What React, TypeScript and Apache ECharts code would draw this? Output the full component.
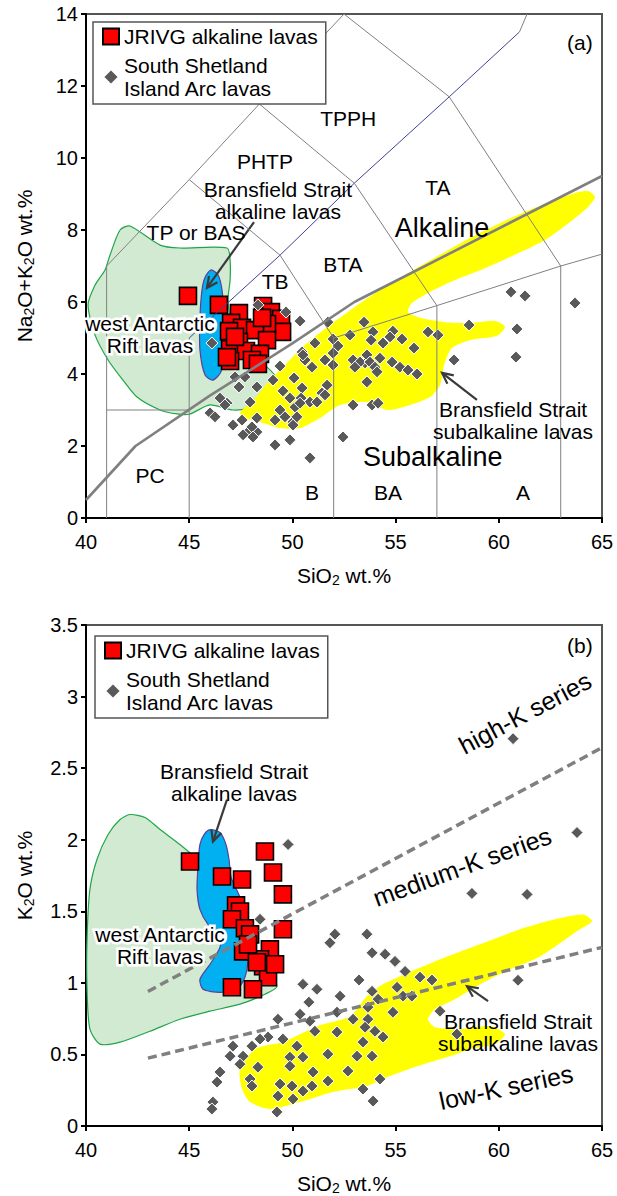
import React, { useEffect, useRef } from "react";
import * as echarts from "echarts";

const FONT = '"Liberation Sans", Arial, Helvetica, sans-serif';

const NAME_RED = "JRIVG alkaline lavas";
const NAME_DIA = "South Shetland\nIsland Arc lavas";

// ---------- Panel (a): TAS ----------
const RED_A = [
  [44.94, 6.17], [46.44, 5.92], [48.58, 5.89], [48.96, 5.72], [49.45, 5.53], [49.5, 5.17],
  [47.41, 5.69], [47.03, 5.42], [47.56, 5.28], [46.93, 5.19], [48.77, 5.39], [48.19, 5.22],
  [48.77, 4.94], [47.41, 4.89], [46.98, 4.69], [47.75, 4.64], [48.43, 4.56], [46.98, 4.36],
  [48.04, 4.39], [48.33, 4.28], [46.83, 4.47], [47.22, 5.03], [48.53, 5.56],
];

const DIAM_A = [
  [48.33, 5.92], [49.69, 5.72], [50.37, 5.47], [51.72, 5.44], [53.47, 5.44], [46.1, 4.86],
  [53.9, 5.17], [52.79, 5.08], [51.97, 4.97], [51.09, 4.86], [52.21, 4.78], [50.47, 4.61],
  [49.4, 4.22], [47.22, 3.92], [47.7, 3.92], [47.41, 3.64], [48.28, 3.64], [49.06, 3.83],
  [50.08, 3.89], [50.61, 4.39], [51.58, 4.39], [50.95, 4.19], [52.94, 4.39], [53.52, 4.31],
  [53.61, 3.78], [51.68, 3.69], [50.47, 3.61], [49.54, 3.53], [49.88, 3.33], [50.42, 3.33],
  [50.85, 3.22], [50.13, 3.08], [49.4, 3.0], [49.64, 2.81], [50.03, 2.67], [47.95, 3.22],
  [46.83, 3.19], [46.01, 2.92], [47.12, 2.58], [47.56, 2.72], [48.28, 2.78], [47.8, 2.36],
  [48.28, 2.39], [49.16, 2.03], [49.88, 2.17], [52.45, 2.25], [52.94, 3.14], [53.86, 3.14],
  [51.43, 3.47], [51.19, 3.22], [46.49, 3.33], [46.73, 3.14], [46.25, 2.81], [48.04, 2.53],
  [47.61, 2.31], [48.09, 2.25], [49.16, 2.72], [50.22, 2.81], [50.03, 2.58], [54.87, 5.19],
  [55.31, 4.97], [54.39, 4.86], [54.73, 5.03], [53.81, 4.94], [50.51, 4.53], [51.97, 4.58],
  [51.97, 4.25], [53.28, 4.33], [53.03, 4.19], [53.61, 4.53], [53.76, 4.33], [54.0, 4.19],
  [54.24, 4.44], [54.83, 4.33], [55.21, 4.19], [55.6, 4.11], [56.04, 4.0], [55.89, 4.72],
  [54.1, 4.06], [51.58, 3.42], [50.37, 3.19], [54.15, 3.19], [56.57, 5.17], [57.05, 5.08],
  [57.83, 4.39], [50.85, 1.67], [60.59, 6.28], [61.27, 6.17], [63.69, 5.97], [58.56, 5.36],
  [60.88, 5.25], [60.83, 4.47],
];

const GREEN_A = [
  [41.65, 8.0], [42.13, 8.11], [43.59, 7.58], [44.55, 7.5], [46.83, 7.5], [46.98, 7.17],
  [46.98, 6.6], [46.88, 6.06], [47.07, 5.42], [48.2, 4.5], [49.1, 4.0], [49.3, 3.64],
  [48.91, 3.28], [47.95, 3.06], [47.12, 3.0], [46.0, 3.14], [45.04, 2.89], [44.41, 2.89],
  [43.59, 3.0], [42.47, 3.36], [41.79, 3.83], [41.07, 4.39], [40.44, 5.08], [40.1, 5.92],
  [40.44, 6.47], [40.92, 6.89], [41.16, 7.3],
];

const BLUE_A = [
  [46.06, 6.89], [46.4, 6.75], [46.59, 6.33], [46.69, 5.5], [46.69, 4.67], [46.54, 4.06],
  [46.15, 3.83], [45.77, 3.97], [45.52, 4.67], [45.52, 5.56], [45.62, 6.33], [45.77, 6.69],
];

const YELLOW_A = [
  [47.46, 2.92], [48.19, 3.33], [48.82, 3.78], [49.64, 4.25], [50.61, 4.81], [51.82, 5.36],
  [53.03, 5.86], [54.24, 6.33], [55.7, 6.83], [57.15, 7.31], [58.6, 7.78], [60.06, 8.19],
  [61.51, 8.56], [62.72, 8.83], [63.69, 9.03], [64.32, 9.08], [64.66, 8.92], [64.32, 8.64],
  [63.45, 8.22], [62.24, 7.72], [60.78, 7.31], [59.33, 6.94], [57.88, 6.61], [56.67, 6.28],
  [55.79, 5.97], [55.6, 5.72], [56.18, 5.56], [57.39, 5.44], [58.6, 5.42], [59.82, 5.47],
  [60.3, 5.31], [59.91, 5.06], [58.6, 4.94], [57.73, 4.72], [57.35, 4.25], [57.15, 3.69],
  [56.67, 3.36], [55.7, 3.14], [54.58, 3.0], [53.61, 3.22], [52.31, 3.14], [51.34, 2.78],
  [50.37, 2.5], [49.4, 2.5], [48.43, 2.67], [47.7, 2.78],
];

const TAS_LINES = [
  [[41, 0], [41, 7], [45, 9.4], [48.4, 11.5], [52.5, 14]],
  [[41, 3], [45, 3]],
  [[45, 0], [45, 5]],
  [[45, 9.4], [49.4, 7.3], [52, 5], [57, 5.9], [63, 7], [65, 7.33]],
  [[48.4, 11.5], [53, 9.3], [57, 5.9]],
  [[52, 0], [52, 5]],
  [[57, 0], [57, 5.9]],
  [[63, 0], [63, 7]],
  [[52.5, 14], [57.6, 11.7], [63, 7]],
  [[61, 13.5], [61.37, 14]],
];

const NAVY_LINE = [[45, 5], [49.4, 7.3], [53, 9.3], [57.6, 11.7], [61, 13.5]];

const ALK_LINE = [[40, 0.5], [42.4, 2.0], [46, 3.4], [50, 4.85], [53, 6.0], [65, 9.5]];

const ARROWS_A = [
  [48.14, 8.22, 45.86, 6.39],
  [58.94, 3.28, 57.25, 4.03],
];

const LABELS_A = [
  { text: "(a)", x: 63.93, y: 13.22 },
  { text: "TPPH", x: 52.7, y: 11.1 },
  { text: "PHTP", x: 48.67, y: 9.89 },
  { text: "TA", x: 57.05, y: 9.17 },
  { text: "Alkaline", x: 57.25, y: 8.06, size: "big" },
  { text: "BTA", x: 52.45, y: 7.03 },
  { text: "TB", x: 49.16, y: 6.56 },
  { text: "TP or BAS", x: 45.33, y: 7.92 },
  { text: "Bransfield Strait\nalkaline lavas", x: 49.3, y: 8.81 },
  { text: "west Antarctic\nRift lavas", x: 43.1, y: 5.11, halo: true },
  { text: "PC", x: 43.1, y: 1.19 },
  { text: "B", x: 50.95, y: 0.72 },
  { text: "BA", x: 54.63, y: 0.72 },
  { text: "A", x: 61.17, y: 0.72 },
  { text: "Subalkaline", x: 56.8, y: 1.69, size: "big" },
  { text: "Bransfield Strait\nsubalkaline lavas", x: 60.69, y: 2.72 },
];

// ---------- Panel (b): K2O ----------
const RED_B = [
  [45.04, 1.848], [46.59, 1.743], [47.56, 1.722], [48.67, 1.918], [49.06, 1.771], [49.54, 1.618],
  [47.27, 1.541], [47.46, 1.499], [47.07, 1.444], [47.7, 1.381], [49.54, 1.374], [47.61, 1.22],
  [48.91, 1.234], [48.43, 1.165], [48.58, 1.116], [48.82, 1.039], [47.07, 0.969], [48.09, 0.955],
  [47.95, 1.339], [48.28, 1.144], [47.85, 1.269], [49.16, 1.13],
];

const DIAM_B = [
  [52.06, 1.34], [53.61, 1.34], [51.82, 1.28], [53.86, 1.21], [54.49, 1.2], [54.97, 1.15],
  [55.46, 1.08], [56.18, 1.04], [56.76, 1.02], [53.23, 1.02], [50.51, 0.99], [51.19, 0.955],
  [52.31, 0.907], [50.8, 0.865], [55.07, 0.969], [55.36, 0.907], [55.79, 0.907], [53.86, 0.941],
  [54.15, 0.886], [53.66, 0.83], [54.87, 0.795], [57.15, 0.802], [52.94, 0.746], [52.16, 0.795],
  [50.85, 0.732], [50.37, 0.781], [49.3, 0.746], [53.66, 0.746], [54.0, 0.662], [54.39, 0.621],
  [53.52, 0.69], [52.16, 0.656], [51.09, 0.662], [49.54, 0.607], [50.22, 0.558], [48.82, 0.621],
  [48.43, 0.607], [48.04, 0.558], [53.42, 0.586], [50.51, 0.481], [49.88, 0.481], [51.72, 0.502],
  [53.13, 0.488], [53.86, 0.488], [47.61, 0.488], [47.12, 0.558], [46.98, 0.488], [47.46, 0.432],
  [48.33, 0.411], [49.88, 0.418], [51.0, 0.377], [52.69, 0.384], [47.95, 0.328], [46.49, 0.377],
  [46.35, 0.307], [48.04, 0.279], [49.4, 0.293], [49.98, 0.279], [50.51, 0.244], [49.3, 0.209],
  [50.03, 0.188], [50.95, 0.279], [51.72, 0.314], [53.42, 0.258], [54.24, 0.328], [53.91, 0.174],
  [49.25, 0.098], [46.15, 0.167], [46.1, 0.119], [57.97, 0.642], [60.93, 1.018], [58.7, 1.625],
  [61.37, 1.618], [63.79, 2.05], [60.69, 2.706], [49.79, 1.967], [48.43, 1.444],
];

const GREEN_B = [
  [42.13, 2.176], [42.86, 2.155], [43.59, 2.071], [44.55, 1.967], [45.52, 1.848], [46.49, 1.722],
  [47.32, 1.632], [47.7, 1.478], [48.04, 1.269], [48.53, 1.13], [49.25, 0.976], [48.67, 0.921],
  [47.46, 0.851], [46.01, 0.802], [44.55, 0.746], [43.1, 0.662], [41.65, 0.586], [40.68, 0.572],
  [40.19, 0.676], [40.05, 0.955], [40.05, 1.304], [40.19, 1.653], [40.53, 1.862], [41.07, 2.036],
  [41.65, 2.141],
];

const BLUE_B = [
  [46.01, 2.071], [46.49, 2.05], [46.78, 1.967], [46.93, 1.862], [47.03, 1.736], [47.36, 1.632],
  [47.7, 1.513], [47.85, 1.339], [47.85, 1.165], [47.7, 1.039], [47.32, 0.955], [46.49, 0.934],
  [45.67, 0.955], [45.52, 1.025], [46.01, 1.13], [46.49, 1.248], [46.49, 1.339], [45.91, 1.409],
  [45.52, 1.513], [45.38, 1.653], [45.43, 1.827], [45.52, 1.967], [45.72, 2.036],
];

const YELLOW_B = [
  [47.46, 0.397], [48.19, 0.537], [49.54, 0.586], [51.19, 0.697], [52.79, 0.767], [53.61, 0.907],
  [54.39, 0.99], [56.81, 1.144], [59.09, 1.269], [61.03, 1.374], [62.72, 1.444], [64.08, 1.478],
  [64.52, 1.43], [63.93, 1.374], [62.0, 1.185], [60.54, 1.095], [59.09, 0.99], [57.88, 0.886],
  [56.91, 0.816], [56.57, 0.746], [56.91, 0.69], [58.12, 0.676], [59.57, 0.697], [60.3, 0.642],
  [59.82, 0.572], [58.6, 0.537], [57.64, 0.488], [56.04, 0.418], [54.73, 0.349], [53.61, 0.279],
  [51.97, 0.237], [50.37, 0.167], [48.91, 0.119], [47.95, 0.167], [47.56, 0.258],
];

const HIGHK_LINE = [[43, 0.94], [65, 2.643]];
const LOWK_LINE = [[43, 0.474], [65, 1.248]];

const ARROWS_B = [
  [46.83, 2.28, 46.15, 1.987],
  [59.48, 0.872, 58.46, 0.976],
];

const LABELS_B = [
  { text: "(b)", x: 63.93, y: 3.36 },
  { text: "high-K series", x: 61.27, y: 2.887, rot: 28, size: "series" },
  { text: "medium-K series", x: 58.22, y: 1.813, rot: 20, size: "series" },
  { text: "low-K series", x: 60.35, y: 0.272, rot: 12, size: "series" },
  { text: "Bransfield Strait\nalkaline lavas", x: 47.17, y: 2.399 },
  { text: "west Antarctic\nRift lavas", x: 43.59, y: 1.262, halo: true },
  { text: "Bransfield Strait\nsubalkaline lavas", x: 60.93, y: 0.656 },
];

// ---------- styles ----------
const FONT_SIZES: Record<string, number> = { big: 27, series: 25, normal: 21 };
const GREEN_STYLE = { fill: "#d3ead2", stroke: "#1fa548", lineWidth: 1.2 };
const BLUE_STYLE = { fill: "#00b0f0", stroke: "#5b3e98", lineWidth: 1.2 };
const YELLOW_STYLE = { fill: "#ffff00", stroke: "none", lineWidth: 0 };

function polySeries(poly: number[][], style: any, idx: number) {
  return {
    type: "custom",
    xAxisIndex: idx,
    yAxisIndex: idx,
    silent: true,
    data: [poly[0]],
    renderItem: (_p: any, api: any) => ({
      type: "polygon",
      shape: { points: poly.map((pt) => api.coord(pt)), smooth: 0.25 },
      style: { ...style },
    }),
  };
}

function lineSeries(pts: number[][], idx: number, lineStyle: any) {
  return {
    type: "line",
    xAxisIndex: idx,
    yAxisIndex: idx,
    data: pts,
    symbol: "none",
    silent: true,
    lineStyle,
  };
}

function arrowSeries(arrows: number[][], idx: number) {
  return {
    type: "custom",
    xAxisIndex: idx,
    yAxisIndex: idx,
    silent: true,
    data: arrows.map((a) => [a[0], a[1]]),
    renderItem: (params: any, api: any) => {
      const a = arrows[params.dataIndex];
      const p1 = api.coord([a[0], a[1]]);
      const p2 = api.coord([a[2], a[3]]);
      const ang = Math.atan2(p2[1] - p1[1], p2[0] - p1[0]);
      const L = 12;
      const w = 0.45;
      const h1 = [p2[0] - L * Math.cos(ang - w), p2[1] - L * Math.sin(ang - w)];
      const h2 = [p2[0] - L * Math.cos(ang + w), p2[1] - L * Math.sin(ang + w)];
      return {
        type: "group",
        children: [
          { type: "line", shape: { x1: p1[0], y1: p1[1], x2: p2[0], y2: p2[1] }, style: { stroke: "#3a3a3a", lineWidth: 2.2 } },
          { type: "polyline", shape: { points: [h1, p2, h2] }, style: { stroke: "#3a3a3a", lineWidth: 2.2, fill: "none" } },
        ],
      };
    },
  };
}

function labelSeries(labels: any[], idx: number) {
  return {
    type: "custom",
    xAxisIndex: idx,
    yAxisIndex: idx,
    silent: true,
    z: 10,
    data: labels.map((l) => [l.x, l.y]),
    renderItem: (params: any, api: any) => {
      const l = labels[params.dataIndex];
      const p = api.coord([l.x, l.y]);
      const style: any = {
        text: l.text,
        fontSize: FONT_SIZES[l.size || "normal"],
        fontFamily: FONT,
        fill: "#000",
        align: "center",
        verticalAlign: "middle",
        lineHeight: 22,
      };
      if (l.halo) {
        style.stroke = "#fff";
        style.lineWidth = 5;
      }
      return {
        type: "text",
        x: p[0],
        y: p[1],
        rotation: ((l.rot || 0) * Math.PI) / 180,
        style,
      };
    },
  };
}

function scatterSeries(idx: number, red: number[][], dia: number[][]) {
  return [
    {
      type: "scatter",
      name: NAME_RED,
      xAxisIndex: idx,
      yAxisIndex: idx,
      data: red,
      symbol: "rect",
      symbolSize: 17,
      silent: true,
      itemStyle: { color: "#ff0000", borderColor: "#000", borderWidth: 1.6, opacity: 1 },
    },
    {
      type: "scatter",
      name: NAME_DIA,
      xAxisIndex: idx,
      yAxisIndex: idx,
      data: dia,
      symbol: "diamond",
      symbolSize: 12,
      silent: true,
      itemStyle: { color: "#595959", borderColor: "#fff", borderWidth: 1, opacity: 1 },
    },
  ];
}

const SUB_RICH = {
  sub: { fontSize: 14, fontFamily: FONT, color: "#000", padding: [9, 0, 0, 0] },
};

function xAxisDef(idx: number) {
  return {
    gridIndex: idx,
    type: "value",
    min: 40,
    max: 65,
    interval: 5,
    name: "SiO{sub|2} wt.%",
    nameLocation: "middle",
    nameGap: 46,
    nameTextStyle: { fontSize: 21, color: "#000", fontFamily: FONT, rich: SUB_RICH },
    axisLine: { show: true, onZero: false, lineStyle: { color: "#000", width: 2 } },
    axisTick: { show: true, length: 5, lineStyle: { color: "#000", width: 2 } },
    axisLabel: { fontSize: 20, color: "#000", fontFamily: FONT, margin: 14 },
    splitLine: { show: false },
  };
}

function yAxisDef(idx: number, max: number, interval: number, name: string) {
  return {
    gridIndex: idx,
    type: "value",
    min: 0,
    max,
    interval,
    name,
    nameLocation: "middle",
    nameGap: 50,
    nameTextStyle: { fontSize: 21, color: "#000", fontFamily: FONT, rich: SUB_RICH },
    axisLine: { show: true, onZero: false, lineStyle: { color: "#000", width: 2 } },
    axisTick: { show: true, length: 5, lineStyle: { color: "#000", width: 2 } },
    axisLabel: { fontSize: 20, color: "#000", fontFamily: FONT, margin: 8 },
    splitLine: { show: false },
  };
}

function legendDef(left: number, top: number) {
  return {
    left,
    top,
    orient: "vertical",
    data: [NAME_RED, NAME_DIA],
    selectedMode: false,
    backgroundColor: "#fff",
    borderColor: "#555",
    borderWidth: 1.5,
    padding: [3, 8, 4, 9],
    itemGap: 6,
    itemWidth: 16,
    itemHeight: 16,
    textStyle: { fontSize: 21, color: "#000", fontFamily: FONT, lineHeight: 23 },
  };
}

function buildOption() {
  const gray = { color: "#808080", width: 1 };
  const series: any[] = [
    // panel a
    polySeries(GREEN_A, GREEN_STYLE, 0),
    lineSeries(NAVY_LINE, 0, { color: "#40409a", width: 1 }),
    polySeries(BLUE_A, BLUE_STYLE, 0),
    polySeries(YELLOW_A, YELLOW_STYLE, 0),
    ...TAS_LINES.map((l) => lineSeries(l, 0, gray)),
    lineSeries(ALK_LINE, 0, { color: "#808080", width: 2.6 }),
    arrowSeries(ARROWS_A, 0),
    ...scatterSeries(0, RED_A, DIAM_A),
    labelSeries(LABELS_A, 0),
    // panel b
    polySeries(GREEN_B, GREEN_STYLE, 1),
    polySeries(BLUE_B, BLUE_STYLE, 1),
    polySeries(YELLOW_B, YELLOW_STYLE, 1),
    lineSeries(HIGHK_LINE, 1, { color: "#808080", width: 3.5, type: [9, 5] }),
    lineSeries(LOWK_LINE, 1, { color: "#808080", width: 3.5, type: [9, 5] }),
    arrowSeries(ARROWS_B, 1),
    ...scatterSeries(1, RED_B, DIAM_B),
    labelSeries(LABELS_B, 1),
  ];
  return {
    animation: false,
    backgroundColor: "#fff",
    textStyle: { fontFamily: FONT },
    grid: [
      { left: 86, top: 14, width: 516, height: 504, show: true, borderColor: "#555", borderWidth: 2 },
      { left: 86, top: 625, width: 516, height: 502, show: true, borderColor: "#555", borderWidth: 2 },
    ],
    xAxis: [xAxisDef(0), xAxisDef(1)],
    yAxis: [
      yAxisDef(0, 14, 2, "Na{sub|2}O+K{sub|2}O wt.%"),
      yAxisDef(1, 3.5, 0.5, "K{sub|2}O wt.%"),
    ],
    legend: [legendDef(93, 22), legendDef(95, 636)],
    series,
  };
}

export default function App() {
  const ref = useRef<HTMLDivElement>(null);
  useEffect(() => {
    const chart = echarts.init(ref.current as HTMLDivElement, null, { renderer: "svg" });
    chart.setOption(buildOption() as any);
    return () => chart.dispose();
  }, []);
  return (
    <div
      ref={ref}
      style={{ position: "fixed", left: 0, top: 0, width: 617, height: 1196, background: "#fff" }}
    />
  );
}
